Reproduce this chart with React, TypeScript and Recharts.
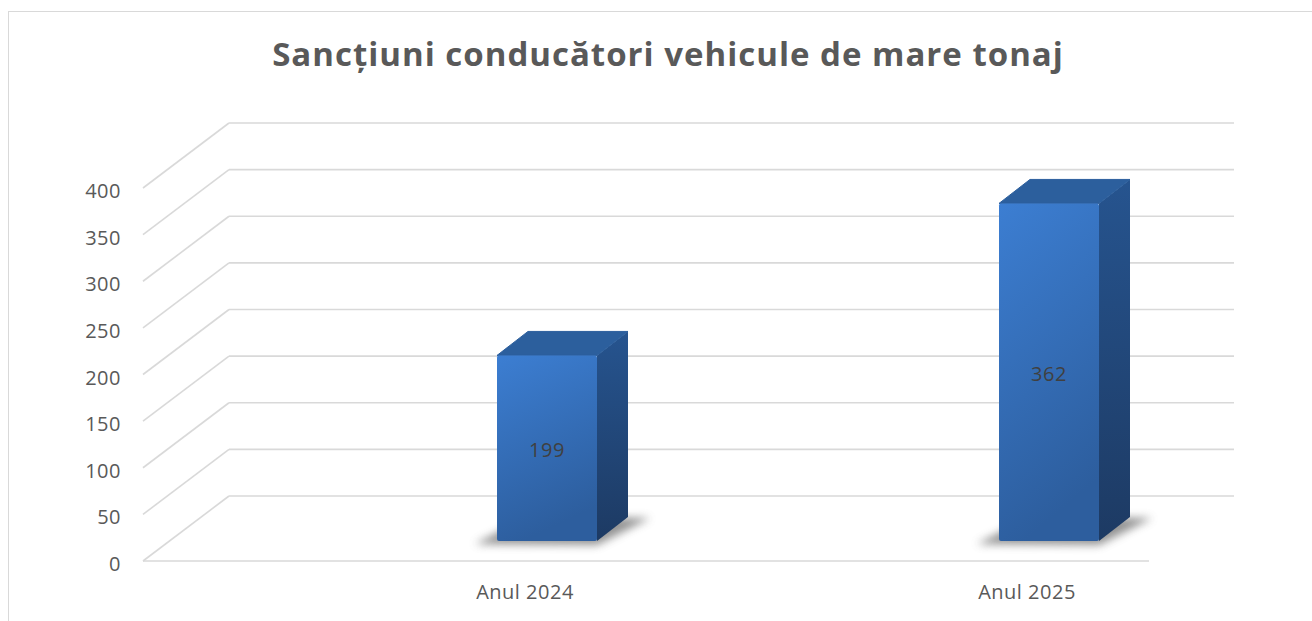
import { BarChart, Bar, XAxis, YAxis, CartesianGrid, LabelList } from 'recharts'

const categories = ['Anul 2024', 'Anul 2025']
const sanctions = [199, 362]
const yTicks = [0, 50, 100, 150, 200, 250, 300, 350, 400]

const data = categories.map((name, i) => ({ name, value: sanctions[i] }))

const COLORS = {
  grid: '#d9d9d9',
  text: '#595959',
  label: '#404040',
  border: '#d9d9d9',
} as const

const FONT = '"Open Sans", "DejaVu Sans", sans-serif'

// layout of the fake 3d box (page pixels)
const FRONT_LEFT = 143
const FLOOR_RIGHT = 1149
const WALL_RIGHT = 1234
const WALL_DX = 86
const WALL_DY = -65
// the bars stand in the middle of the floor depth
const BAR_DX = 22
const BAR_DY = -20
const SIDE_DX = 31
const SIDE_DY = -24

const renderGridLine = (props: any) => {
  const { y1, index } = props
  const bx = FRONT_LEFT + WALL_DX
  const by = y1 + WALL_DY
  const isFloor = Math.abs(y1 - 561) < 2
  return (
    <g key={`grid-${index}`}>
      <line x1={FRONT_LEFT} y1={y1} x2={bx} y2={by} stroke={COLORS.grid} strokeWidth={1.6} />
      <line x1={bx} y1={by} x2={WALL_RIGHT} y2={by} stroke={COLORS.grid} strokeWidth={1.6} />
      {isFloor && (
        <line x1={FRONT_LEFT} y1={y1} x2={FLOOR_RIGHT} y2={y1} stroke={COLORS.grid} strokeWidth={1.6} />
      )}
    </g>
  )
}

const Bar3D = (props: any) => {
  const { x, y, width, height } = props
  const fx = x + BAR_DX
  const fy = y + BAR_DY
  const fb = fy + height
  const rx = fx + width
  return (
    <g>
      <polygon
        points={`${fx - 22},${fb + 3} ${rx},${fb + 4} ${rx + SIDE_DX + 22},${fb + SIDE_DY + 1} ${fx + SIDE_DX},${fb + SIDE_DY}`}
        fill="#6f6f6f"
        opacity={0.75}
        filter="url(#barShadow)"
      />
      <polygon
        points={`${rx},${fy} ${rx + SIDE_DX},${fy + SIDE_DY} ${rx + SIDE_DX},${fb + SIDE_DY} ${rx},${fb}`}
        fill="url(#barSide)"
      />
      <polygon
        points={`${fx},${fy} ${fx + SIDE_DX},${fy + SIDE_DY} ${rx + SIDE_DX},${fy + SIDE_DY} ${rx},${fy}`}
        fill="#2c5f9d"
        stroke="#2c5f9d"
        strokeWidth={1}
        strokeLinejoin="round"
      />
      <rect x={fx} y={fy} width={width} height={height} rx={2} fill="url(#barFront)" />
    </g>
  )
}

const renderValue = (props: any) => {
  const { x, y, width, height, value } = props
  return (
    <text
      x={x + BAR_DX + width / 2}
      y={y + BAR_DY + height / 2 + 9}
      textAnchor="middle"
      fontFamily={FONT}
      fontSize={20}
      letterSpacing={0.5}
      fill={COLORS.label}
    >
      {value}
    </text>
  )
}

export default function App() {
  return (
    <div style={{ position: 'absolute', left: 0, top: 0, width: 1312, height: 621, overflow: 'hidden', background: '#fff' }}>
      <div
        style={{
          position: 'absolute',
          left: 8,
          top: 11,
          width: 1400,
          height: 700,
          border: `1px solid ${COLORS.border}`,
        }}
      />
      <div
        style={{
          position: 'absolute',
          left: 218,
          top: 31,
          width: 900,
          textAlign: 'center',
          fontFamily: FONT,
          fontWeight: 700,
          fontSize: 33,
          letterSpacing: 1,
          lineHeight: '45px',
          color: COLORS.text,
          whiteSpace: 'nowrap',
        }}
      >
        Sancțiuni conducători vehicule de mare tonaj
      </div>
      <div style={{ position: 'absolute', left: 0, top: 0 }}>
        <BarChart
          width={1312}
          height={621}
          data={data}
          margin={{ top: 188, right: 34, bottom: 30, left: 143 }}
        >
          <defs>
            <linearGradient id="barFront" x1="0" y1="0" x2="0.25" y2="1">
              <stop offset="0%" stopColor="#3c7ed2" />
              <stop offset="100%" stopColor="#2d5e9e" />
            </linearGradient>
            <linearGradient id="barSide" x1="0" y1="0" x2="0" y2="1">
              <stop offset="0%" stopColor="#26548f" />
              <stop offset="100%" stopColor="#1d3a63" />
            </linearGradient>
            <filter id="barShadow" x="-50%" y="-50%" width="200%" height="200%">
              <feGaussianBlur stdDeviation="4" />
            </filter>
          </defs>
          <CartesianGrid vertical={false} horizontal={renderGridLine} />
          <XAxis
            dataKey="name"
            axisLine={false}
            tickLine={false}
            tickMargin={18}
            height={30}
            tick={{ fill: COLORS.text, fontSize: 20, fontFamily: FONT, letterSpacing: 0.5 }}
          />
          <YAxis
            domain={[0, 400]}
            ticks={yTicks}
            width={131}
            axisLine={false}
            tickLine={false}
            tickMargin={147}
            tick={{ fill: COLORS.text, fontSize: 20, fontFamily: FONT, letterSpacing: 0.5, dy: 3 }}
          />
          <Bar dataKey="value" barSize={100} shape={Bar3D} isAnimationActive={false}>
            <LabelList dataKey="value" content={renderValue} />
          </Bar>
        </BarChart>
      </div>
    </div>
  )
}
